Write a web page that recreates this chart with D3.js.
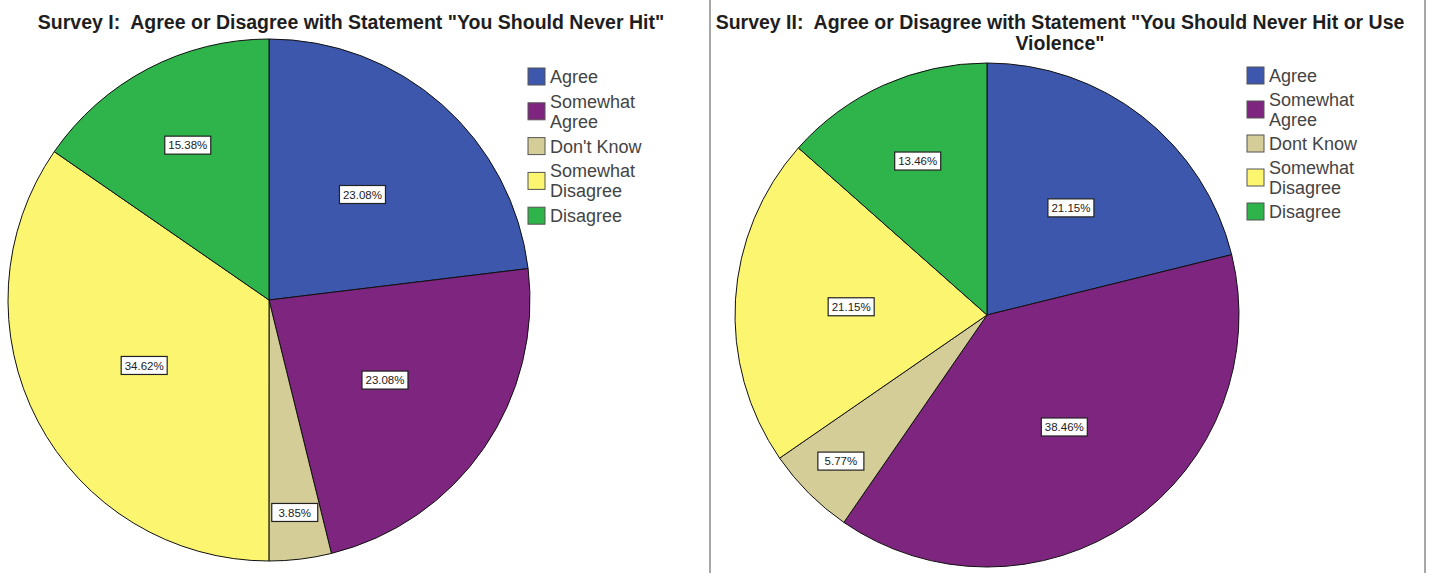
<!DOCTYPE html>
<html lang="en">
<head>
<meta charset="UTF-8">
<title>Survey pies</title>
<script src="https://d3js.org/d3.v7.min.js"></script>
<style>
  body { margin: 0; background: #fff; }
  svg { display: block; font-family: "Liberation Sans", Arial, sans-serif; }
</style>
</head>
<body>
<div id="chart"></div>
<script>
// categories and values
const categories = ["Agree", "Somewhat Agree", "Don't Know", "Somewhat Disagree", "Disagree"];
const legend1 = [["Agree"], ["Somewhat", "Agree"], ["Don't Know"], ["Somewhat", "Disagree"], ["Disagree"]];
const legend2 = [["Agree"], ["Somewhat", "Agree"], ["Dont Know"], ["Somewhat", "Disagree"], ["Disagree"]];
const survey1 = [23.08, 23.08, 3.85, 34.62, 15.38];
const survey2 = [21.15, 38.46, 5.77, 21.15, 13.46];
const colors = ["#3d57ad", "#7e2580", "#d5cd98", "#fbf56f", "#2fb34b"];

const width = 1432, height = 573;

const svg = d3.select("#chart").append("svg")
    .attr("width", width)
    .attr("height", height);

// panel frame lines
svg.append("line").attr("x1", 710).attr("x2", 710).attr("y1", 0).attr("y2", height)
    .attr("stroke", "#8a8a8a").attr("stroke-width", 1.5);
svg.append("line").attr("x1", 1425).attr("x2", 1425).attr("y1", 0).attr("y2", height)
    .attr("stroke", "#8a8a8a").attr("stroke-width", 1.5);

const color = d3.scaleOrdinal().domain(categories).range(colors);

function drawPanel(cfg) {
    const g = svg.append("g");

    // title
    const title = g.append("text")
        .attr("x", cfg.titleX)
        .attr("y", 29)
        .attr("text-anchor", "middle")
        .attr("font-size", 19.5)
        .attr("font-weight", "bold")
        .attr("fill", "#1e1e1e")
        .style("white-space", "pre");
    cfg.title.forEach((line, i) => {
        title.append("tspan").attr("x", cfg.titleX).attr("dy", i === 0 ? 0 : 21).text(line);
    });

    const pieData = d3.pie().sort(null).value(d => d.value)(
        categories.map((c, i) => ({ cat: c, value: cfg.values[i] }))
    );
    const total = d3.sum(cfg.values);

    const arc = d3.arc().innerRadius(0).outerRadius(cfg.r);

    const pg = g.append("g").attr("transform", `translate(${cfg.cx},${cfg.cy})`);

    pg.selectAll("path")
        .data(pieData)
        .enter()
        .append("path")
        .attr("d", arc)
        .attr("fill", d => color(d.data.cat))
        .attr("stroke", "#111")
        .attr("stroke-width", 1);

    // labels: smaller slices get pushed further out, like the original
    const labels = pg.selectAll("g.lbl")
        .data(pieData)
        .enter()
        .append("g")
        .attr("class", "lbl")
        .attr("transform", d => {
            const p = d.data.value / total;
            const f = p < 0.1 ? 0.82 : (p < 0.2 ? 0.67 : 0.54);
            const c = d3.arc().innerRadius(cfg.r * f).outerRadius(cfg.r * f).centroid(d);
            return `translate(${c})`;
        });

    labels.append("rect")
        .attr("x", -23)
        .attr("y", -9)
        .attr("width", 46)
        .attr("height", 18)
        .attr("fill", "#fff")
        .attr("stroke", "#222")
        .attr("stroke-width", 1.2);

    labels.append("text")
        .attr("text-anchor", "middle")
        .attr("dy", "0.36em")
        .attr("font-size", 11.5)
        .attr("fill", "#222")
        .text(d => d.data.value.toFixed(2) + "%");

    // legend
    const lg = g.append("g").attr("transform", `translate(${cfg.legendX},${cfg.legendY})`);
    const rows = lg.selectAll("g")
        .data(cfg.legend)
        .enter()
        .append("g")
        .attr("transform", (d, i) => `translate(0,${i * cfg.legendStep})`);

    rows.append("rect")
        .attr("x", 0)
        .attr("y", -9)
        .attr("width", 17)
        .attr("height", 17)
        .attr("fill", (d, i) => colors[i])
        .attr("stroke", "#555")
        .attr("stroke-width", 1);

    rows.append("text")
        .attr("x", 22)
        .attr("font-size", 18)
        .attr("fill", "#444")
        .each(function(lines) {
            const t = d3.select(this);
            const start = lines.length === 1 ? 6 : -4;
            lines.forEach((line, j) => {
                t.append("tspan").attr("x", 22).attr("y", start + j * 20).text(line);
            });
        });
}

drawPanel({
    title: ["Survey I:  Agree or Disagree with Statement \"You Should Never Hit\""],
    titleX: 351,
    values: survey1,
    legend: legend1,
    cx: 269, cy: 300, r: 261,
    legendX: 528, legendY: 77, legendStep: 34.8
});

drawPanel({
    title: ["Survey II:  Agree or Disagree with Statement \"You Should Never Hit or Use", "Violence\""],
    titleX: 1060,
    values: survey2,
    legend: legend2,
    cx: 987, cy: 315, r: 252,
    legendX: 1247, legendY: 76, legendStep: 34
});
</script>
</body>
</html>
